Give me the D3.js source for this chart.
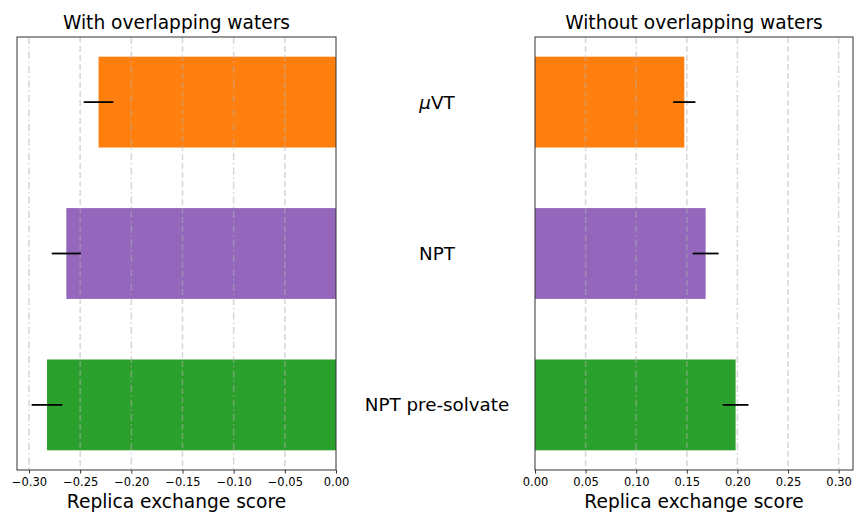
<!DOCTYPE html>
<html>
<head>
<meta charset="utf-8">
<script src="https://cdn.jsdelivr.net/npm/d3@7"></script>
<style>
  body { margin: 0; background: #fff; }
  svg { font-family: "DejaVu Sans", sans-serif; }
</style>
</head>
<body>
<div id="chart"></div>
<script>
const categories = ['μVT', 'NPT', 'NPT pre-solvate'];
const barColors = ['#ff7f0e', '#9467bd', '#2ca02c'];
const withWaters = [-0.232, -0.2635, -0.2824];
const withWatersErr = [0.0145, 0.0142, 0.0150];
const withoutWaters = [0.1475, 0.1686, 0.1982];
const withoutWatersErr = [0.0110, 0.0128, 0.0127];
const leftTicks = [-0.30, -0.25, -0.20, -0.15, -0.10, -0.05, 0.00];
const rightTicks = [0.00, 0.05, 0.10, 0.15, 0.20, 0.25, 0.30];

const w = 854, h = 512;
const plotTop = 37, plotBottom = 470;
const bigFont = '18.6px';

const svg = d3.select('#chart').append('svg')
  .attr('width', w).attr('height', h);

const yScale = d3.scaleBand()
  .domain(categories)
  .range([plotTop, plotBottom])
  .paddingInner(0.4)
  .paddingOuter(0.13);

const fmt = v => d3.format('.2f')(v).replace('-', '\u2212');

function panel(opts) {
  const {x0, x1, domain, values, errs, ticks, title} = opts;
  const xScale = d3.scaleLinear().domain(domain).range([x0, x1]);
  const g = svg.append('g');

  // bars
  g.selectAll('rect.bar')
    .data(values)
    .enter().append('rect')
    .attr('class', 'bar')
    .attr('x', d => Math.min(xScale(0), xScale(d)))
    .attr('y', (d, i) => yScale(categories[i]))
    .attr('width', d => Math.abs(xScale(d) - xScale(0)))
    .attr('height', yScale.bandwidth())
    .attr('fill', (d, i) => barColors[i]);

  // grid (drawn over the bars, faint)
  g.selectAll('line.grid')
    .data(ticks.filter(t => t !== 0))
    .enter().append('line')
    .attr('class', 'grid')
    .attr('x1', d => xScale(d)).attr('x2', d => xScale(d))
    .attr('y1', plotTop).attr('y2', plotBottom)
    .attr('stroke', '#b0b0b0')
    .attr('stroke-opacity', 0.5)
    .attr('stroke-width', 1.5)
    .attr('stroke-dasharray', d => Math.round(Math.abs(d) * 100) % 10 === 0 ? '7,3,1.5,3' : '6,3');

  // error bars
  g.selectAll('line.err')
    .data(values)
    .enter().append('line')
    .attr('class', 'err')
    .attr('x1', (d, i) => xScale(d - errs[i]))
    .attr('x2', (d, i) => xScale(d + errs[i]))
    .attr('y1', (d, i) => yScale(categories[i]) + yScale.bandwidth() / 2)
    .attr('y2', (d, i) => yScale(categories[i]) + yScale.bandwidth() / 2)
    .attr('stroke', '#000')
    .attr('stroke-width', 1.8);

  // frame
  g.append('rect')
    .attr('x', x0).attr('y', plotTop)
    .attr('width', x1 - x0).attr('height', plotBottom - plotTop)
    .attr('fill', 'none')
    .attr('stroke', '#333')
    .attr('stroke-width', 1);

  // x axis
  const xAxis = d3.axisBottom(xScale)
    .tickValues(ticks)
    .tickFormat(fmt)
    .tickSize(3.5)
    .tickPadding(4.5);
  const ax = g.append('g')
    .attr('transform', `translate(0, ${plotBottom})`)
    .call(xAxis);
  ax.select('.domain').remove();
  ax.selectAll('.tick line').attr('stroke', '#333');
  ax.selectAll('.tick text')
    .style('font-size', '11.5px')
    .style('font-family', '"DejaVu Sans", sans-serif')
    .attr('fill', '#000');

  g.append('text')
    .attr('x', (x0 + x1) / 2).attr('y', 508)
    .attr('text-anchor', 'middle')
    .style('font-size', bigFont)
    .text('Replica exchange score');

  g.append('text')
    .attr('x', (x0 + x1) / 2).attr('y', 29)
    .attr('text-anchor', 'middle')
    .style('font-size', bigFont)
    .text(title);

  return xScale;
}

panel({
  x0: 17, x1: 336, domain: [-0.3117, 0],
  values: withWaters, errs: withWatersErr,
  ticks: leftTicks, title: 'With overlapping waters'
});

panel({
  x0: 535, x1: 853, domain: [0, 0.3142],
  values: withoutWaters, errs: withoutWatersErr,
  ticks: rightTicks, title: 'Without overlapping waters'
});

// category labels between the panels
const labels = svg.append('g').selectAll('text')
  .data(categories)
  .enter().append('text')
  .attr('x', 437)
  .attr('y', d => yScale(d) + yScale.bandwidth() / 2)
  .attr('dy', '0.36em')
  .attr('text-anchor', 'middle')
  .style('font-size', '18.3px');

labels.each(function(d) {
  const t = d3.select(this);
  if (d.startsWith('μ')) {
    t.append('tspan').attr('font-style', 'italic').text('μ');
    t.append('tspan').text(d.slice(1));
  } else {
    t.text(d);
  }
});
</script>
</body>
</html>
